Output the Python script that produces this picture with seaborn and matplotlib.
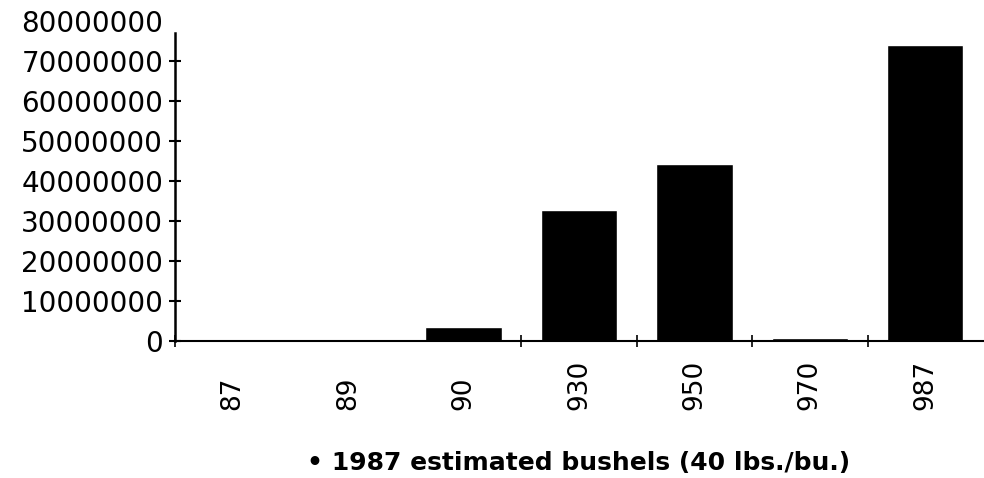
import matplotlib
matplotlib.use("Agg")
import matplotlib.pyplot as plt
import seaborn as sns
import pandas as pd

# values
years = ["87", "89", "90", "930", "950", "970", "987"]
bushels = [0, 0, 3500000, 32800000, 44200000, 800000, 74000000]
y_ticks = [0, 10000000, 20000000, 30000000, 40000000, 50000000, 60000000, 70000000, 80000000]

df = pd.DataFrame({"year": years, "bushels": bushels})

sns.set_style("white")
plt.rcParams["font.family"] = ["DejaVu Sans"]

fig = plt.figure(figsize=(9.84, 4.78), dpi=100)
ax = fig.add_axes([175 / 984, 1 - 341 / 478, 808 / 984, 320 / 478])

sns.barplot(data=df, x="year", y="bushels", color="black", width=0.66,
            saturation=1, ax=ax)

ax.set_xlim(-0.5, 6.5)
ax.set_ylim(0, 80000000)
ax.set_yticks(y_ticks)
ax.set_yticklabels([str(v) for v in y_ticks], fontsize=20)
ax.set_xticks(range(len(years)))
ax.set_xticklabels(years, rotation=90, fontsize=19)
for lab in ax.get_xticklabels():
    lab.set_va("bottom")
ax.set_xticks([-0.5, 2.5, 3.5, 4.5, 5.5], minor=True)

ax.tick_params(axis="y", left=True, direction="inout", length=9, width=1.5,
               pad=4, colors="black")
ax.tick_params(axis="x", which="major", length=0, pad=50, colors="black")
ax.tick_params(axis="x", which="minor", bottom=True, direction="inout",
               length=8, width=1.2, color="black")
ax.yaxis.get_major_ticks()[-1].tick1line.set_visible(False)

sns.despine(ax=ax)
ax.spines["left"].set_bounds(0, 77000000)
ax.spines["left"].set_linewidth(1.8)
ax.spines["bottom"].set_linewidth(1.5)
ax.spines["left"].set_color("black")
ax.spines["bottom"].set_color("black")

ax.set_ylabel("")
ax.set_xlabel("\u2022 1987 estimated bushels (40 lbs./bu.)", fontsize=18,
              fontweight="bold", color="black", labelpad=29)

fig.savefig("out.png", dpi=100)
